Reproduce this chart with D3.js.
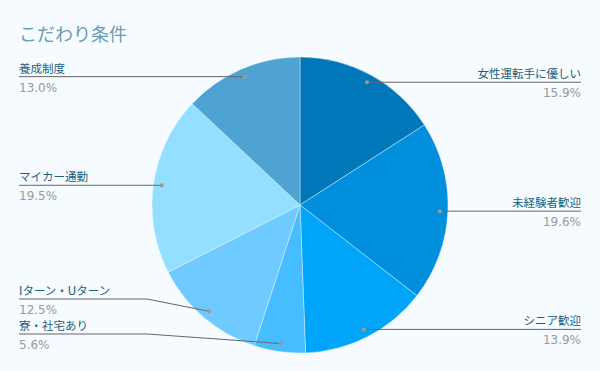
<html>
<head>
<meta charset="utf-8">
<script src="https://d3js.org/d3.v7.min.js"></script>
<style>
body { margin: 0; background: #f5fbff; }
text { font-family: "DejaVu Sans", "Noto Sans CJK JP", sans-serif; }
</style>
</head>
<body>
<script>
// chart data
var labels = ["女性運転手に優しい", "未経験者歓迎", "シニア歓迎", "寮・社宅あり", "Iターン・Uターン", "マイカー通勤", "養成制度"];
var values = [15.9, 19.6, 13.9, 5.6, 12.5, 19.5, 13.0];
var colors = ["#0077b9", "#008fdd", "#00a4f9", "#45bdff", "#6fcbff", "#93dfff", "#4fa3d3"];

var width = 600, height = 371;
var cx = 300, cy = 205, radius = 148;

var svg = d3.select("body").append("svg")
  .attr("width", width)
  .attr("height", height);

svg.append("rect").attr("width", width).attr("height", height).attr("fill", "#f5fbff");

svg.append("text")
  .attr("x", 19).attr("y", 41)
  .attr("font-size", "18px")
  .attr("fill", "#6b9cb5")
  .text("こだわり条件");

var data = labels.map(function(d, i) { return { label: d, value: values[i], color: colors[i] }; });

var pie = d3.pie().sort(null).value(function(d) { return d.value; });
var arc = d3.arc().innerRadius(0).outerRadius(radius);
var dotArc = d3.arc().innerRadius(radius * 0.945).outerRadius(radius * 0.945);

var arcs = pie(data);

var g = svg.append("g").attr("transform", "translate(" + cx + "," + cy + ")");
g.selectAll("path")
  .data(arcs)
  .enter()
  .append("path")
  .attr("d", arc)
  .attr("fill", function(d) { return d.data.color; })
  .attr("stroke", "#f5fbff")
  .attr("stroke-width", 0.4);

// label placement
arcs.forEach(function(d) {
  var p = dotArc.centroid(d);
  d.dx = cx + p[0];
  d.dy = cy + p[1];
  d.right = (d.startAngle + d.endAngle) / 2 < Math.PI;
  d.ly = d.dy;
});

var gap = 35, maxY = 334;
[true, false].forEach(function(side) {
  var s = arcs.filter(function(d) { return d.right === side; })
    .sort(function(a, b) { return b.ly - a.ly; });
  var prev = null;
  s.forEach(function(d) {
    var y = Math.min(d.ly, maxY);
    if (prev !== null) y = Math.min(y, prev - gap);
    d.ly = y;
    prev = y;
  });
});

var lab = svg.append("g");
arcs.forEach(function(d) {
  var edge = d.right ? 581 : 19;
  var elbow = d.right ? 453 : 147;
  var pts = d.ly === d.dy ? [[edge, d.ly], [d.dx, d.dy]] : [[edge, d.ly], [elbow, d.ly], [d.dx, d.dy]];
  lab.append("path")
    .attr("d", d3.line()(pts))
    .attr("fill", "none")
    .attr("stroke", "#666")
    .attr("stroke-width", 1);
  lab.append("circle")
    .attr("cx", d.dx).attr("cy", d.dy).attr("r", 2)
    .attr("fill", "#999");
  lab.append("text")
    .attr("x", edge).attr("y", d.ly - 4)
    .attr("text-anchor", d.right ? "end" : "start")
    .attr("font-size", "11.5px")
    .attr("fill", "#1f5f7a")
    .text(d.data.label);
  lab.append("text")
    .attr("x", edge).attr("y", d.ly + 15)
    .attr("text-anchor", d.right ? "end" : "start")
    .attr("font-size", "12px")
    .attr("fill", "#999")
    .text(d3.format(".1f")(d.data.value) + "%");
});
</script>
</body>
</html>
